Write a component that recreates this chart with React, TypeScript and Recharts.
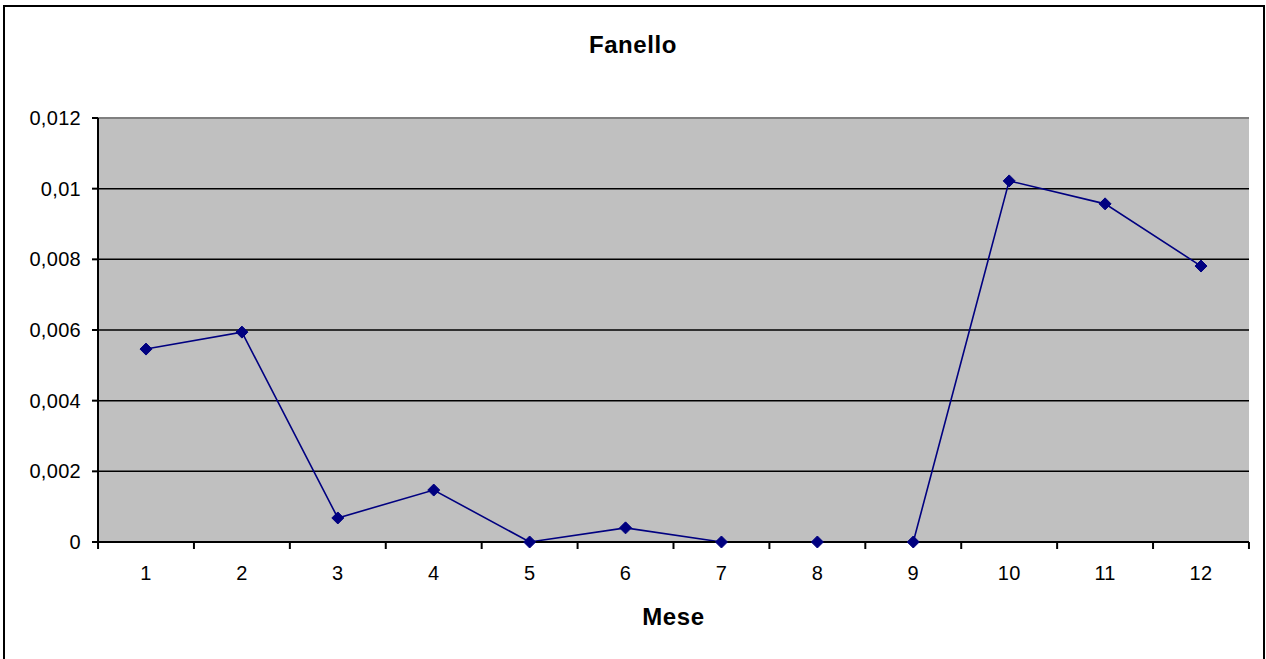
import { LineChart, Line, XAxis, YAxis, CartesianGrid, ReferenceLine } from 'recharts';

const months = ['1', '2', '3', '4', '5', '6', '7', '8', '9', '10', '11', '12'];
const fanello = [0.00546, 0.00594, 0.00068, 0.00147, 0, 0.0004, 0, 0, 0, 0.01022, 0.00957, 0.00781];
const yTicks = [0, 0.002, 0.004, 0.006, 0.008, 0.01, 0.012];
const gridValues = [0.002, 0.004, 0.006, 0.008, 0.01];

const chartData = months.map((m, i) => ({ mese: m, fanello: fanello[i] }));

const FONT = '"Liberation Sans", Arial, sans-serif';
const HALF_BAND = 47.96;

function Diamond(props: any) {
  const { cx, cy } = props;
  if (cx == null || cy == null) return null;
  const r = 6;
  return (
    <polygon
      points={`${cx},${cy - r} ${cx + r},${cy} ${cx},${cy + r} ${cx - r},${cy}`}
      fill="#000080"
      stroke="#000080"
      strokeWidth={1}
    />
  );
}

function MonthTick(props: any) {
  const { x, y, payload, index } = props;
  return (
    <g>
      <line x1={x - HALF_BAND} y1={y} x2={x - HALF_BAND} y2={y + 7} stroke="#000" strokeWidth={2} />
      {index === months.length - 1 && (
        <line x1={x + HALF_BAND} y1={y} x2={x + HALF_BAND} y2={y + 7} stroke="#000" strokeWidth={2} />
      )}
      <text x={x} y={y + 38} textAnchor="middle" fontSize={20} fontFamily={FONT} fill="#000" letterSpacing={0.3}>
        {payload.value}
      </text>
    </g>
  );
}

export default function App() {
  return (
    <div style={{ position: 'relative', width: 1266, height: 659, overflow: 'hidden', background: '#fff' }}>
      <style>{'body{margin:0}'}</style>
      <div
        style={{
          position: 'absolute',
          left: 3,
          top: 5,
          width: 1258,
          height: 700,
          border: '2px solid #000',
        }}
      />
      <div
        style={{
          position: 'absolute',
          left: 0,
          width: 1266,
          top: 31,
          textAlign: 'center',
          fontFamily: FONT,
          fontWeight: 'bold',
          fontSize: 24,
          letterSpacing: 0.6,
        }}
      >
        Fanello
      </div>
      <div
        style={{
          position: 'absolute',
          left: 98,
          width: 1151,
          top: 603,
          textAlign: 'center',
          fontFamily: FONT,
          fontWeight: 'bold',
          fontSize: 24,
          letterSpacing: 0.6,
        }}
      >
        Mese
      </div>
      <div style={{ position: 'absolute', left: 0, top: 0 }}>
        <LineChart width={1266} height={659} data={chartData} margin={{ top: 118, right: 17, left: 38, bottom: 87 }}>
          <CartesianGrid
            fill="#C0C0C0"
            vertical={false}
            horizontalValues={gridValues}
            stroke="#000"
            strokeWidth={1.5}
          />
          <ReferenceLine y={0.012} stroke="#808080" strokeWidth={2} />
          <XAxis
            dataKey="mese"
            padding={{ left: 48, right: 48 }}
            axisLine={{ stroke: '#000', strokeWidth: 2 }}
            tickLine={false}
            tickSize={0}
            tickMargin={0}
            tick={<MonthTick />}
            interval={0}
            height={30}
          />
          <YAxis
            domain={[0, 0.012]}
            ticks={yTicks}
            tickFormatter={(v: number) => String(v).replace('.', ',')}
            axisLine={{ stroke: '#000', strokeWidth: 2 }}
            tickLine={{ stroke: '#000', strokeWidth: 2 }}
            tickSize={6}
            tickMargin={11}
            tick={{ fill: '#000', fontSize: 20, fontFamily: FONT, letterSpacing: 0.3 }}
            width={60}
          />
          <YAxis
            yAxisId="frame"
            orientation="right"
            width={0}
            tick={false}
            tickLine={false}
            axisLine={{ stroke: '#808080', strokeWidth: 2 }}
          />
          <Line
            type="linear"
            dataKey="fanello"
            stroke="#000080"
            strokeWidth={1.6}
            dot={<Diamond />}
            activeDot={false}
            isAnimationActive={false}
          />
        </LineChart>
      </div>
    </div>
  );
}
